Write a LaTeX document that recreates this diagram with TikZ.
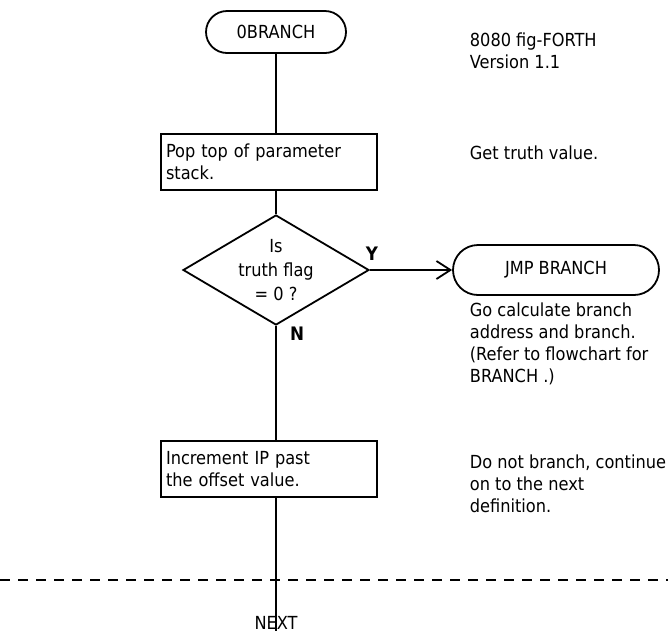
\documentclass[tikz,border=0pt]{standalone}
\usepackage{fontspec}
\setmainfont{DejaVu Sans Condensed}
\usetikzlibrary{shapes.geometric,shapes.misc,arrows.meta}
\begin{document}
\begin{tikzpicture}[x=1pt,y=-1pt,
  font=\fontsize{18}{22}\selectfont,
  line width=1.8pt,
  term/.style={draw, rounded rectangle, inner sep=0pt},
  proc/.style={draw, minimum width=216pt, minimum height=56pt, text width=206pt, align=left, inner sep=5pt},
  decide/.style={draw, diamond, minimum width=186pt, minimum height=110pt, inner sep=0pt},
  note/.style={anchor=north west, align=left, inner sep=0pt},
  lbl/.style={font=\fontsize{18.6}{22}\selectfont\bfseries, inner sep=0pt},
  flow/.style={draw, line width=1.8pt},
  arr/.style={flow, -{Straight Barb[length=14pt,width=18pt,line width=1.8pt]}}]
\useasboundingbox (0,0) rectangle (668,633);

\node[term, minimum width=140pt, minimum height=42pt] (start) at (276,32) {0BRANCH};
\node[note] (ver) at (469,32) {8080 fig-FORTH\\Version 1.1};

\node[proc] (pop) at (269,162) {Pop top of parameter\\stack.};
\node[note] (popn) at (469,145) {Get truth value.};

\node[decide] (dec) at (276,270) {};
\node[align=center, inner sep=0pt, font=\fontsize{18}{24}\selectfont] (dect) at (276,270) {Is\\truth flag\\= 0 ?};
\node[lbl] (y) at (372,254) {Y};
\node[lbl] (n) at (297,334) {N};

\node[term, minimum width=206pt, minimum height=50pt] (jmp) at (556,270) {JMP BRANCH};
\node[note] (jmpn) at (469,302) {Go calculate branch\\address and branch.\\(Refer to flowchart for\\BRANCH .)};

\node[proc] (inc) at (269,469) {Increment IP past\\the offset value.};
\node[note] (incn) at (469,454) {Do not branch, continue\\on to the next\\definition.};

\node[inner sep=0pt] (next) at (276,623) {NEXT};
\coordinate (dl) at (0,580);
\coordinate (dr) at (668,580);

\draw[flow] (start.south) -- (start.south |- pop.north);
\draw[flow] (start.south |- pop.south) -- (dec.north);
\draw[flow] (dec.south) -- (dec.south |- inc.north);
\draw[flow] (dec.south |- inc.south) -- ([yshift=-15pt]next.north);
\draw[arr] (dec.east) -- (jmp.west);
\draw[line width=1.3pt, dash pattern=on 10pt off 8pt] (dl) -- (dr);
\end{tikzpicture}
\end{document}
